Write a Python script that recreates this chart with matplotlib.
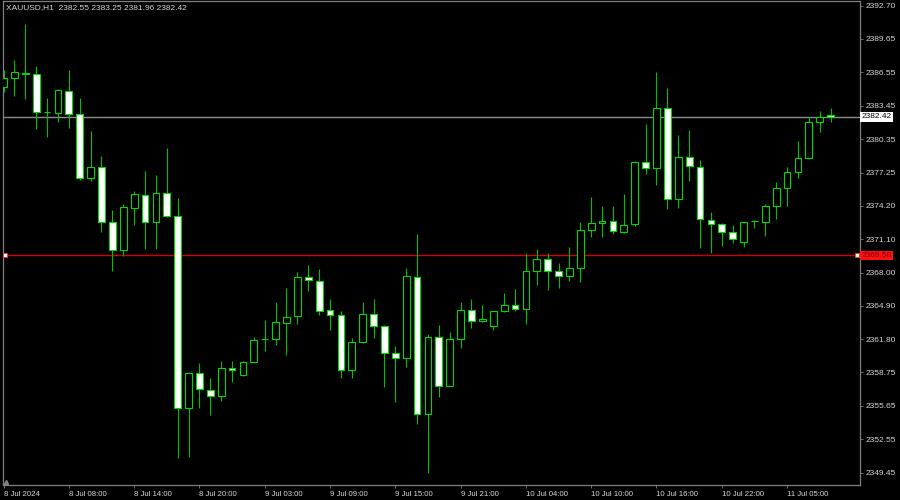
import matplotlib
matplotlib.use("Agg")
import matplotlib.pyplot as plt
import matplotlib.transforms as mtransforms
import numpy as np

# ---- data (XAUUSD H1) ----
opens = [2385.22, 2386.00, 2386.52, 2386.37, 2382.85, 2382.81, 2384.85, 2382.72, 2376.79, 2377.81,
         2372.71, 2370.09, 2374.01, 2375.22, 2372.65, 2375.40, 2373.21, 2355.47, 2358.66, 2357.14,
         2356.56, 2359.18, 2358.53, 2359.74, 2361.81, 2361.87, 2363.32, 2363.94, 2367.58, 2367.21,
         2364.49, 2364.06, 2359.00, 2361.56, 2364.19, 2363.07, 2360.54, 2360.05, 2367.58, 2354.92,
         2362.05, 2357.48, 2361.81, 2364.49, 2363.47, 2363.01, 2364.40, 2364.96, 2364.59, 2368.17,
         2369.22, 2368.11, 2367.65, 2368.39, 2371.91, 2372.59, 2372.74, 2371.75, 2372.47, 2378.27,
         2377.66, 2383.22, 2374.78, 2378.74, 2377.81, 2372.90, 2372.53, 2371.72, 2370.86, 2372.75,
         2372.71, 2374.13, 2375.83, 2377.32, 2378.58, 2381.92, 2382.55]
highs = [2386.77, 2387.70, 2391.00, 2387.17, 2384.14, 2385.00, 2386.77, 2384.14, 2381.12, 2378.80,
         2373.80, 2374.32, 2375.55, 2377.41, 2377.04, 2379.51, 2374.94, 2358.75, 2359.65, 2358.19,
         2359.80, 2359.80, 2359.80, 2362.02, 2363.60, 2365.24, 2366.60, 2368.02, 2368.70, 2368.33,
         2365.51, 2364.46, 2361.90, 2365.30, 2365.55, 2363.10, 2361.22, 2368.45, 2371.54, 2362.27,
         2363.14, 2362.52, 2365.24, 2365.55, 2365.00, 2364.42, 2366.10, 2366.47, 2369.78, 2370.18,
         2369.84, 2368.88, 2370.33, 2372.71, 2375.00, 2374.20, 2374.20, 2375.25, 2378.30, 2381.73,
         2386.61, 2385.07, 2380.74, 2381.21, 2378.43, 2373.58, 2372.55, 2372.40, 2372.71, 2372.87,
         2374.32, 2376.35, 2377.78, 2380.19, 2382.44, 2382.97, 2383.25]
lows = [2384.70, 2384.39, 2384.08, 2381.30, 2380.59, 2381.98, 2381.42, 2376.57, 2376.51, 2371.72,
        2368.17, 2369.56, 2372.40, 2370.15, 2370.15, 2373.10, 2350.84, 2350.90, 2355.47, 2354.79,
        2356.09, 2357.88, 2358.41, 2359.70, 2360.73, 2361.28, 2360.36, 2363.26, 2366.29, 2364.06,
        2362.67, 2358.25, 2358.19, 2361.50, 2361.96, 2357.42, 2355.97, 2359.27, 2353.99, 2349.45,
        2356.46, 2357.45, 2360.97, 2362.83, 2363.40, 2362.67, 2364.38, 2364.46, 2363.20, 2366.84,
        2366.35, 2366.53, 2367.24, 2367.09, 2371.32, 2371.32, 2371.57, 2371.70, 2372.34, 2377.16,
        2376.11, 2373.86, 2373.95, 2376.51, 2370.30, 2369.78, 2370.49, 2370.70, 2370.40, 2372.16,
        2371.38, 2372.96, 2374.20, 2376.79, 2378.49, 2381.05, 2381.96]
closes = [2386.00, 2386.55, 2386.37, 2382.91, 2382.88, 2384.88, 2382.69, 2376.79, 2377.81, 2372.71,
          2370.12, 2374.04, 2375.31, 2372.65, 2375.40, 2373.21, 2355.47, 2358.66, 2357.17, 2356.56,
          2359.18, 2359.00, 2359.74, 2361.78, 2361.83, 2363.38, 2363.91, 2367.58, 2367.27, 2364.46,
          2364.09, 2359.00, 2361.56, 2364.19, 2363.01, 2360.57, 2360.05, 2367.65, 2354.92, 2361.99,
          2357.48, 2361.81, 2364.49, 2363.54, 2363.66, 2364.40, 2364.96, 2364.59, 2368.11, 2369.22,
          2368.11, 2367.68, 2368.39, 2371.91, 2372.62, 2372.74, 2371.85, 2372.37, 2378.27, 2377.72,
          2383.22, 2374.78, 2378.67, 2377.84, 2372.96, 2372.53, 2371.72, 2371.14, 2372.71, 2372.79,
          2374.20, 2375.86, 2377.35, 2378.58, 2381.92, 2382.44, 2382.42]

ytick_values = [2392.70, 2389.65, 2386.55, 2383.45, 2380.35, 2377.25, 2374.20, 2371.10,
                2368.00, 2364.90, 2361.80, 2358.75, 2355.65, 2352.55, 2349.45]
xtick_bars = [0, 6, 12, 18, 24, 30, 36, 42, 48, 54, 60, 66, 72]
xtick_labels = ["8 Jul 2024", "8 Jul 08:00", "8 Jul 14:00", "8 Jul 20:00", "9 Jul 03:00",
                "9 Jul 09:00", "9 Jul 15:00", "9 Jul 21:00", "10 Jul 04:00", "10 Jul 10:00",
                "10 Jul 16:00", "10 Jul 22:00", "11 Jul 05:00"]
symbol = "XAUUSD,H1"
bid_price = 2382.42
hline_price = 2369.58

# ---- style ----
BG = "#000000"
GREEN = "#00c000"
EDGE = "#00d800"
GRID = "#808080"
TXT = "#d8d8d8"
FONT = "Liberation Sans"

o = np.array(opens); h = np.array(highs); l = np.array(lows); c = np.array(closes)
x = np.arange(len(o))

fig = plt.figure(figsize=(9, 5), dpi=100, facecolor=BG)
ax = fig.add_axes([3 / 900, 1 - 485 / 500, 857 / 900, 484 / 500])
ax.set_facecolor(BG)

# wicks
ax.vlines(x, l, h, colors=GREEN, linewidth=0.8, zorder=2)
# bodies
bear = c < o
bottoms = np.minimum(o, c)
heights = np.maximum(np.abs(c - o), 0.02)
face = np.where(bear, "#ffffff", "#000000")
ax.bar(x, heights, bottom=bottoms, width=0.62, color=face, edgecolor=EDGE,
       linewidth=0.8, zorder=3)

# horizontal lines
ax.axhline(bid_price, color="#8a8a92", linewidth=1.0, zorder=1)
ax.axhline(hline_price, color="#d00000", linewidth=1.0, zorder=1)
blend = mtransforms.blended_transform_factory(ax.transAxes, ax.transData)
ax.plot([0.002, 0.997], [hline_price, hline_price], linestyle="none", marker="s",
        markersize=2.2, markerfacecolor="#ffffff", markeredgecolor="#ff3030",
        markeredgewidth=0.6, transform=blend, clip_on=False, zorder=5)

ax.set_xlim(-0.05, 78.7)
ax.set_ylim(2348.31, 2393.16)

for s in ax.spines.values():
    s.set_color(GRID)
    s.set_linewidth(0.9)

ax.yaxis.tick_right()
ax.set_yticks(ytick_values)
ax.set_yticklabels([f"{v:.2f}" for v in ytick_values], fontsize=6, color=TXT, family=FONT)
ax.tick_params(axis="y", direction="out", length=2.2, width=0.6, color=GRID, pad=1.5)

ax.set_xticks(xtick_bars)
ax.set_xticklabels(xtick_labels, fontsize=5.6, color=TXT, family=FONT, ha="left")
ax.tick_params(axis="x", direction="out", length=2, width=0.6, color=GRID, pad=2.5)

# price labels on the axis
ax.text(1.0015, bid_price, f"{bid_price:.2f}", transform=blend, fontsize=6, family=FONT,
        color="#000000", va="center", ha="left", zorder=6, clip_on=False,
        bbox=dict(boxstyle="square,pad=0.15", facecolor="#ffffff", edgecolor="none"))
ax.text(1.0015, hline_price, f"{hline_price:.2f}", transform=blend, fontsize=6, family=FONT,
        color="#7a0000", va="center", ha="left", zorder=6, clip_on=False,
        bbox=dict(boxstyle="square,pad=0.15", facecolor="#ff1010", edgecolor="none"))

# header
fig.text(6 / 900, 1 - 7.5 / 500,
         f"{symbol}  {opens[-1]:.2f} {highs[-1]:.2f} {lows[-1]:.2f} {closes[-1]:.2f}",
         fontsize=6, family=FONT, color=TXT, va="center", ha="left")

# chart shift marker
ax.plot([0.004], [0.006], marker="^", markersize=3, color=GRID, transform=ax.transAxes,
        clip_on=False, zorder=6)

fig.savefig("out.png", dpi=100, facecolor=BG)
